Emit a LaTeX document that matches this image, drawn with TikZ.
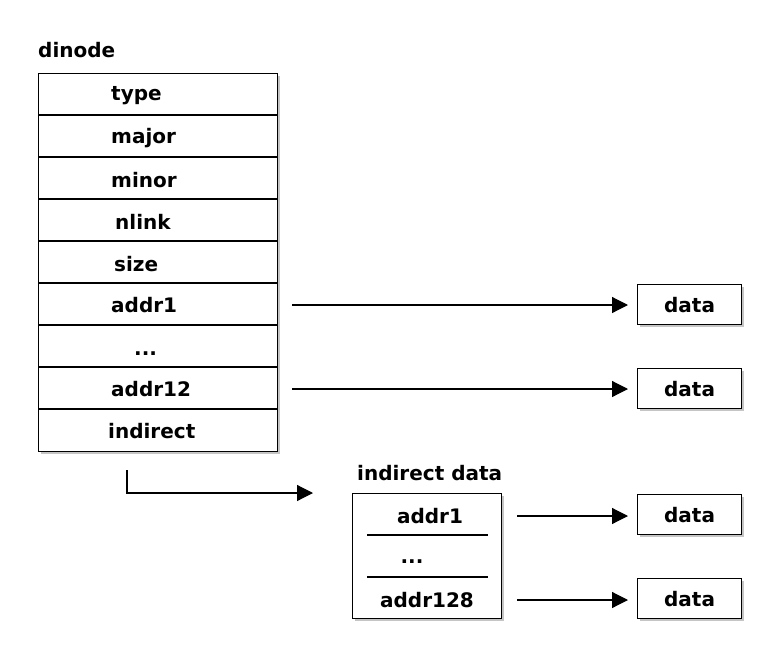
\documentclass[tikz,border=0pt]{standalone}
\usepackage{fontspec}
\setmainfont{DejaVu Sans}
\usetikzlibrary{arrows.meta,shadows}
\begin{document}
\begin{tikzpicture}[x=1pt,y=-1pt,
  lbl/.style={font=\bfseries\fontsize{20}{23}\selectfont, inner sep=0pt},
  box/.style={draw=black, line width=1.2pt, fill=white, drop shadow={shadow xshift=2.5pt, shadow yshift=-2.5pt, fill=black!45}},
  cell/.style={draw=black, line width=1.2pt},
  conn/.style={line width=1.2pt, -{Triangle[length=16pt,width=16pt]}},
  databox/.style={box, minimum width=104pt, minimum height=40pt, inner sep=0pt, font=\bfseries\fontsize{20}{23}\selectfont}]
\useasboundingbox (0,0) rectangle (780,672);
% dinode
\node[lbl, anchor=base west] (title) at (38,57) {dinode};
\node[box, anchor=north west, minimum width=239pt, minimum height=378pt, inner sep=0pt] (dinode) at (38,73) {};
\foreach \y in {115,157,199,241,283,325,367,409} \draw[cell] (38,\y) -- (277,\y);
\node[lbl, anchor=west] (type) at (111,96) {type};
\node[lbl, anchor=west] (major) at (111,138) {major};
\node[lbl, anchor=west] (minor) at (111,180) {minor};
\node[lbl, anchor=west] (nlink) at (115,222) {nlink};
\node[lbl, anchor=west] (size) at (114,264) {size};
\node[lbl, anchor=west] (a1) at (111,305) {addr1};
\node[lbl, anchor=west] (dots) at (134,354) {...};
\node[lbl, anchor=west] (a12) at (111,389) {addr12};
\node[lbl, anchor=west] (ind) at (108,431) {indirect};
% data boxes
\node[databox, anchor=north west] (d1) at (637,284) {data};
\node[databox, anchor=north west] (d2) at (637,368) {data};
\node[databox, anchor=north west] (d3) at (637,494) {data};
\node[databox, anchor=north west] (d4) at (637,578) {data};
\coordinate (s1) at (292,305);
\coordinate (s2) at (292,389);
\draw[conn] (s1) -- ([xshift=-9pt]s1 -| d1.west);
\draw[conn] (s2) -- ([xshift=-9pt]s2 -| d2.west);
% indirect block
\node[lbl, anchor=base west] (ititle) at (357,480) {indirect data};
\node[box, anchor=north west, minimum width=149pt, minimum height=125pt, inner sep=0pt] (iblk) at (352,493) {};
\draw[cell] (367,535) -- (488,535);
\draw[cell] (367,577) -- (488,577);
\node[lbl] (ia1) at (430,516) {addr1};
\node[lbl] (idots) at (412,562) {...};
\node[lbl] (ia128) at (427,600) {addr128};
\coordinate (t0) at (127,470);
\coordinate (t1) at (313,493);
\draw[conn] (t0) |- (t1);
\coordinate (s3) at (517,516);
\coordinate (s4) at (517,600);
\draw[conn] (s3) -- ([xshift=-9pt]s3 -| d3.west);
\draw[conn] (s4) -- ([xshift=-9pt]s4 -| d4.west);
\end{tikzpicture}
\end{document}
